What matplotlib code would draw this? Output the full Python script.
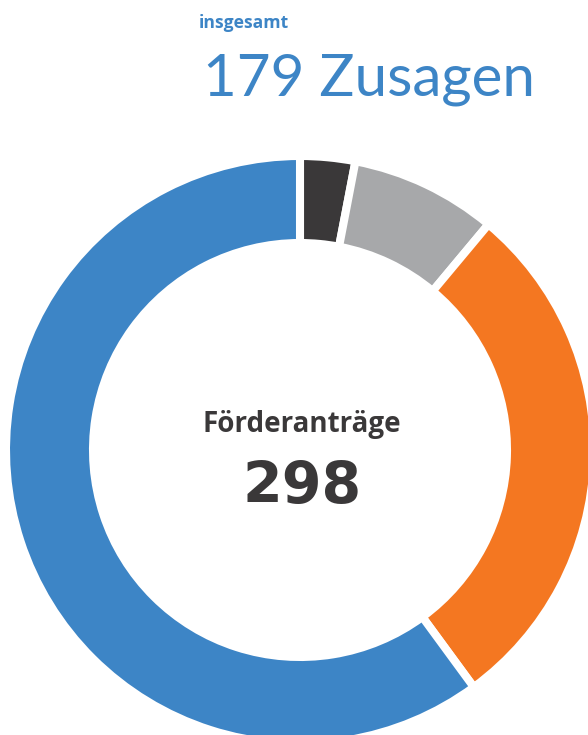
import matplotlib.pyplot as plt

# Förderanträge nach Status (im Uhrzeigersinn ab 12 Uhr)
kategorien = ["sonstige", "abgelehnt", "in Bearbeitung", "Zusagen"]
werte = [9, 24, 86, 179]
farben = ["#3a3839", "#a7a8aa", "#f47721", "#3d85c6"]

gesamt = sum(werte)
zusagen = werte[3]

blau = "#3d85c6"
dunkel = "#3a3839"

plt.rcParams['font.family'] = ['Open Sans', 'DejaVu Sans']

W, H = 588, 735
fig = plt.figure(figsize=(W / 100, H / 100), dpi=100)
ax = fig.add_axes([0, 0, 1, 1])
ax.set_xlim(0, W)
ax.set_ylim(0, H)
ax.set_aspect('equal')
ax.axis('off')

# Ring (Pixelkoordinaten, y von unten)
ax.pie(werte, colors=farben, startangle=90, counterclock=False,
       center=(300, H - 450), radius=294,
       wedgeprops=dict(width=87, edgecolor='white', linewidth=5.8))
ax.set_xlim(0, W)
ax.set_ylim(0, H)

ax.text(199, H - 28, "insgesamt", color=blau, fontsize=12.6, fontweight='bold',
        ha='left', va='baseline')
ax.text(203, H - 95, f"{zusagen} Zusagen", color=blau, fontsize=42,
        family=['Lato', 'DejaVu Sans'], ha='left', va='baseline')

ax.text(302, H - 432, "Förderanträge", color=dunkel, fontsize=20,
        fontweight='bold', ha='center', va='baseline')
ax.text(302, H - 503, str(gesamt), color=dunkel, fontsize=41,
        fontweight='bold', family=['DejaVu Sans'], ha='center', va='baseline')

plt.savefig("out.png", dpi=100)
